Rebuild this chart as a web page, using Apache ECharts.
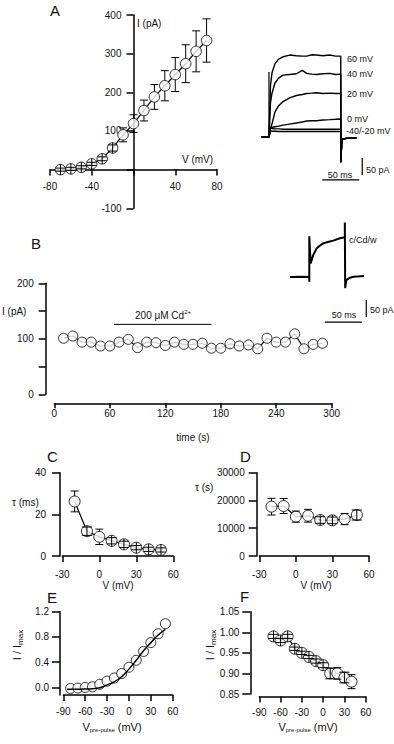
<!DOCTYPE html>
<html>
<head>
<meta charset="utf-8">
<script src="https://cdn.jsdelivr.net/npm/echarts@6/dist/echarts.min.js"></script>
<style>html,body{margin:0;padding:0;background:#fff;}</style>
</head>
<body>
<div id="main" style="width:394px;height:744px;"></div>
<script type="text/javascript">
// ---- A: I-V relation ----
var ivVolt = [-70, -60, -50, -40, -30, -20, -10, 0, 10, 20, 30, 40, 50, 60, 70];
var ivCur  = [0, 2, 6, 15, 28, 56, 90, 119, 153, 188, 217, 246, 274, 306, 334];
var ivErr  = [4, 4, 4, 4, 5, 8, 18, 23, 27, 32, 39, 44, 49, 53, 56];

// A inset: current traces (ms from step onset, pA)
var stepT = [0, 2, 4, 8, 13, 19, 28, 37, 45, 51, 58, 64, 73, 82, 90, 97];
var tr60  = [0, 150, 188, 215, 229, 236, 241, 239, 238, 238, 242, 241, 239, 241, 238, 238];
var tr40  = [0, 100, 128, 158, 173, 182, 184, 186, 196, 187, 185, 184, 186, 187, 184, 185];
var tr20  = [0, 25, 38, 73, 92, 104, 115, 122, 125, 128, 129, 130, 128, 129, 128, 128];
var tr0   = [0, 26, 28, 30, 32, 35, 38, 41, 44, 47, 48, 48, 50, 51, 52, 53];
var trM20 = [0, 26, 25, 24, 24, 23, 23, 23, 23, 23, 23, 23, 23, 23, 23, 23];
var trM40 = [0, 18, 17, 17, 16, 16, 16, 16, 16, 16, 16, 16, 16, 16, 16, 16];
var trLabels = ['60 mV', '40 mV', '20 mV', '0 mV', '-40/-20 mV'];
var preT = [-10, 0], preI = [0, 0];
var postT = [97, 98.5, 105, 118], postI = [-74, -6, -4, -2];
var onsetSpikeA = 191;
var barA_ms = [72, 122], barA_msLevel = -126;
var barA_pA = [-62, -112], barA_pALevel = 126;

// ---- B: time course with Cd2+ ----
var bTime = [10, 20, 30, 40, 50, 60, 70, 80, 90, 100, 110, 120, 130, 140, 150, 160, 170, 180, 190, 200, 210, 220, 230, 240, 250, 260, 270, 280, 290];
var bCur  = [101, 105, 94, 94, 87, 87, 94, 99, 84, 94, 93, 88, 94, 90, 90, 92, 83, 83, 91, 87, 89, 82, 101, 94, 94, 109, 82, 90, 92];
var cdBar = [64.5, 170], cdBarLevel = 126;
// B inset trace (c/Cd/w)
var cdTime = [-26, -12, -0.1, 0, 0, 1.8, 5.4, 9.9, 14, 18.9, 25, 32.4, 41.4, 48, 48, 48.5, 50, 55, 60, 74];
var cdCur  = [0, 1, 0, -14, 120, 40, 65, 84, 92, 99, 103, 107, 114, 117, 160, -33, -9, -2, 1, 3];
var barB_ms = [21, 71], barB_msLevel = -133;
var barB_pA = [-68, -118], barB_pALevel = 77;

// ---- C: tau (ms) ----
var cVolt = [-20, -10, 0, 10, 20, 30, 40, 50];
var cTau  = [26.2, 11.9, 9.2, 7.3, 5.6, 4.0, 3.2, 2.9];
var cErr  = [5, 2, 3.7, 1.5, 1.5, 1, 1, 1];

// ---- D: tau (s) ----
var dVolt = [-20, -10, 0, 10, 20, 30, 40, 50];
var dTau  = [17770, 18000, 14170, 14500, 12960, 12840, 13300, 14760];
var dErr  = [3000, 2700, 2000, 2300, 1200, 1200, 2000, 1800];

// ---- E: activation ----
var eVolt = [-80, -70, -60, -50, -40, -30, -20, -10, 0, 10, 20, 30, 40, 50];
var eRel  = [-0.016, -0.01, 0.0, 0.01, 0.05, 0.10, 0.15, 0.22, 0.32, 0.43, 0.57, 0.71, 0.85, 1.01];
var fitVolt = [-85, -80, -70, -60, -50, -40, -30, -20, -10, 0, 10, 20, 30, 40, 50];
var fitRel  = [-0.03, -0.03, -0.028, -0.025, -0.02, -0.005, 0.04, 0.09, 0.17, 0.29, 0.43, 0.58, 0.71, 0.83, 0.92];

// ---- F: inactivation ----
var fVolt = [-70, -60, -50, -40, -30, -20, -10, 0, 10, 20, 30, 40];
var fRel  = [0.99, 0.98, 0.99, 0.96, 0.95, 0.94, 0.93, 0.92, 0.90, 0.90, 0.89, 0.88];
var fErr  = [0.005, 0.005, 0.005, 0.004, 0.004, 0.004, 0.005, 0.006, 0.013, 0.014, 0.013, 0.017];

var FONT = 'Liberation Sans, Arial, sans-serif';
var INK = '#111';

function zip(a, b) { return a.map(function (v, i) { return [v, b[i]]; }); }
function zip3(a, b, c) { return a.map(function (v, i) { return [v, b[i], c[i]]; }); }

function errRender(r) {
    return function (params, api) {
        var x = api.value(0), y = api.value(1), e = api.value(2);
        var c = api.coord([x, y]), t = api.coord([x, y + e]), b = api.coord([x, y - e]);
        var st = { stroke: '#000', lineWidth: 1 };
        var ch = [];
        function ln(x1, y1, x2, y2) { ch.push({ type: 'line', shape: { x1: x1, y1: y1, x2: x2, y2: y2 }, style: st }); }
        var d = c[1] - t[1];
        var cap = 4;
        if (d > r) {
            ln(c[0], t[1], c[0], c[1] - r);
            ln(c[0], c[1] + r, c[0], b[1]);
        } else {
            ln(c[0], c[1] - r, c[0], c[1] + r);
            cap = r - 0.5;
        }
        ln(c[0] - cap, t[1], c[0] + cap, t[1]);
        ln(c[0] - cap, b[1], c[0] + cap, b[1]);
        return { type: 'group', children: ch };
    };
}

function dots(idx, data, size, errs) {
    var s = [
        { type: 'line', xAxisIndex: idx, yAxisIndex: idx, data: data, symbol: 'none', z: 1,
          lineStyle: { color: '#000', width: 1.2 }, silent: true, animation: false },
        { type: 'scatter', xAxisIndex: idx, yAxisIndex: idx, data: data, symbol: 'circle', symbolSize: size, z: 2,
          itemStyle: { color: '#fff', borderColor: '#000', borderWidth: 1 }, silent: true, animation: false }
    ];
    if (errs) {
        s.push({ type: 'custom', xAxisIndex: idx, yAxisIndex: idx, z: 3, silent: true, animation: false,
                 renderItem: errRender(size / 2), data: errs });
    }
    return s;
}

function trace(idx, data, w) {
    return { type: 'line', xAxisIndex: idx, yAxisIndex: idx, data: data, symbol: 'none', z: 2,
             lineStyle: { color: '#000', width: w || 1.4 }, silent: true, animation: false };
}

function valAxis(idx, o) {
    var ax = {
        type: 'value', gridIndex: idx, min: o.min, max: o.max, interval: o.interval,
        axisLine: { show: true, onZero: false, lineStyle: { color: '#000', width: 1.5 } },
        axisTick: { show: true, length: o.tick || 6, lineStyle: { color: '#000', width: 1.5 } },
        axisLabel: { color: INK, fontFamily: FONT, fontSize: 10, margin: o.margin || 11,
                     formatter: o.fmt || function (v) { return String(v); } },
        splitLine: { show: false },
        offset: o.offset || 0
    };
    if (o.custom) {
        ax.axisLabel.customValues = o.custom;
        ax.axisTick.customValues = o.custom;
    }
    return ax;
}
function hiddenAxis(idx, min, max) {
    return { type: 'value', gridIndex: idx, min: min, max: max, show: false, splitLine: { show: false } };
}

function txt(x, y, text, o) {
    o = o || {};
    return { type: 'text', x: x, y: y, rotation: o.rot || 0, silent: true,
             style: { text: text, fill: INK, font: (o.size || 10) + 'px ' + FONT,
                      align: o.align || 'left', verticalAlign: o.va || 'middle', rich: o.rich } };
}

var myChart = echarts.init(document.getElementById('main'), null, { renderer: 'svg' });

var hide0 = function (v) { return v === 0 ? '' : String(v); };

var series = [];
// A main
series = series.concat(dots(0, zip(ivVolt, ivCur), 10.5, zip3(ivVolt, ivCur, ivErr)));
// A inset
var trs = [tr60, tr40, tr20, tr0, trM20, trM40];
trs.forEach(function (tr) {
    var d = zip(preT, preI).concat(zip(stepT, tr)).concat(zip(postT, postI));
    series.push(trace(1, d, 1.4));
});
series.push(trace(1, [[0, 0], [0, onsetSpikeA]], 1.2));
series.push(trace(1, [[barA_ms[0], barA_msLevel], [barA_ms[1], barA_msLevel]], 1.2));
series.push(trace(1, [[barA_pALevel, barA_pA[0]], [barA_pALevel, barA_pA[1]]], 1.2));
// B main
series = series.concat(dots(2, zip(bTime, bCur), 10, null));
series.push(trace(2, [[cdBar[0], cdBarLevel], [cdBar[1], cdBarLevel]], 1));
// B inset
series.push(trace(3, zip(cdTime, cdCur), 2));
series.push(trace(3, [[barB_ms[0], barB_msLevel], [barB_ms[1], barB_msLevel]], 1.2));
series.push(trace(3, [[barB_pALevel, barB_pA[0]], [barB_pALevel, barB_pA[1]]], 1.2));
// C, D
series = series.concat(dots(4, zip(cVolt, cTau), 11, zip3(cVolt, cTau, cErr)));
series = series.concat(dots(5, zip(dVolt, dTau), 11, zip3(dVolt, dTau, dErr)));
// E
series.push({ type: 'scatter', xAxisIndex: 6, yAxisIndex: 6, data: zip(eVolt, eRel), symbol: 'circle', symbolSize: 10, z: 2,
              itemStyle: { color: '#fff', borderColor: '#000', borderWidth: 1 }, silent: true, animation: false });
series.push({ type: 'line', xAxisIndex: 6, yAxisIndex: 6, data: zip(fitVolt, fitRel), smooth: true, symbol: 'none', z: 3,
              lineStyle: { color: '#000', width: 1.5 }, silent: true, animation: false });
// F
series = series.concat(dots(7, zip(fVolt, fRel), 11, zip3(fVolt, fRel, fErr)));

var option = {
    animation: false,
    grid: [
        { left: 50, top: 15, width: 167, height: 193.3 },
        { left: 260.1, top: 48.6, width: 105.1, height: 132.6 },
        { left: 54.3, top: 283.3, width: 277.4, height: 111 },
        { left: 287.1, top: 219.2, width: 81.4, height: 105.4 },
        { left: 62.3, top: 472.7, width: 111, height: 83.3 },
        { left: 259.3, top: 472.7, width: 109.7, height: 83.3 },
        { left: 63.3, top: 611.7, width: 109.4, height: 83.3 },
        { left: 259.3, top: 611.7, width: 106.4, height: 82.3 }
    ],
    xAxis: [
        // crosses the y axis at I = 0
        valAxis(0, { min: -80, max: 80, interval: 40, offset: -38.7, margin: 12, fmt: hide0 }),
        hiddenAxis(1, -12, 130),
        valAxis(2, { min: 0, max: 300, interval: 60, offset: 9, tick: 5, margin: 5 }),
        hiddenAxis(3, -30, 80),
        valAxis(4, { min: -30, max: 60, interval: 30, margin: 13 }),
        valAxis(5, { min: -30, max: 60, interval: 30, margin: 13 }),
        valAxis(6, { min: -90, max: 60, interval: 30, margin: 11 }),
        valAxis(7, { min: -90, max: 60, interval: 30, offset: 2.5, margin: 11 })
    ],
    yAxis: [
        // crosses the x axis at V = 0
        valAxis(0, { min: -100, max: 400, interval: 100, offset: -83.5, tick: 7, margin: 12, fmt: hide0 }),
        hiddenAxis(1, -130, 260),
        valAxis(2, { min: 0, max: 200, interval: 50, offset: 8.6, tick: 7, margin: 12,
                     fmt: function (v) { return v % 100 === 0 ? String(v) : ''; } }),
        hiddenAxis(3, -140, 170),
        valAxis(4, { min: 0, max: 40, interval: 20, offset: 2.3, tick: 8, margin: 14 }),
        valAxis(5, { min: 0, max: 30000, interval: 10000, offset: 2.6, tick: 8, margin: 12 }),
        valAxis(6, { min: -0.12, max: 1.2, custom: [0, 0.4, 0.8, 1.2], offset: 3.3, tick: 8, margin: 11,
                     fmt: function (v) { return v.toFixed(1); } }),
        valAxis(7, { min: 0.85, max: 1.05, interval: 0.05, offset: 9, tick: 8, margin: 11,
                     fmt: function (v) { return v.toFixed(2); } })
    ],
    series: series,
    graphic: [
        // panel letters
        txt(50, 10, 'A', { size: 15 }),
        txt(31, 243, 'B', { size: 15 }),
        txt(47, 456, 'C', { size: 15 }),
        txt(240, 456, 'D', { size: 15 }),
        txt(47, 597, 'E', { size: 15 }),
        txt(240, 596, 'F', { size: 15 }),
        // A labels
        txt(137, 23, 'I (pA)'),
        txt(182, 159, 'V (mV)'),
        txt(347, 59, trLabels[0], { size: 9 }),
        txt(347, 74, trLabels[1], { size: 9 }),
        txt(347, 94, trLabels[2], { size: 9 }),
        txt(347, 119, trLabels[3], { size: 9 }),
        txt(346, 131, trLabels[4], { size: 9 }),
        txt(366, 170, '50 pA', { size: 9 }),
        txt(340, 175, '50 ms', { size: 9, align: 'center' }),
        // B labels
        txt(2, 311.7, 'I (pA)'),
        txt(193, 437, 'time (s)', { align: 'center' }),
        txt(163, 315, '200 \u03bcM Cd{s|2+}', { align: 'center',
            rich: { s: { fontSize: 6, fontFamily: FONT, fill: INK, verticalAlign: 'top', padding: [0, 0, 6, 0] } } }),
        txt(349, 240, 'c/Cd/w', { size: 9 }),
        txt(370, 310, '50 pA', { size: 9 }),
        txt(344, 315, '50 ms', { size: 9, align: 'center' }),
        // C, D labels
        txt(12, 502, '\u03c4 (ms)'),
        txt(195, 487, '\u03c4 (s)'),
        txt(118, 585, 'V (mV)', { align: 'center' }),
        txt(316, 585, 'V (mV)', { align: 'center' }),
        // E, F labels
        txt(17, 645, 'I / I{s|max}', { size: 11, align: 'center', rot: Math.PI / 2,
            rich: { s: { fontSize: 8, fontFamily: FONT, fill: INK, padding: [6, 0, 0, 0] } } }),
        txt(210, 645, 'I / I{s|max}', { size: 11, align: 'center', rot: Math.PI / 2,
            rich: { s: { fontSize: 8, fontFamily: FONT, fill: INK, padding: [6, 0, 0, 0] } } }),
        txt(112, 727, 'V{s|pre-pulse} (mV)', { size: 11, align: 'center',
            rich: { s: { fontSize: 6, fontFamily: FONT, fill: INK, padding: [6, 0, 0, 0] } } }),
        txt(308, 727, 'V{s|pre-pulse} (mV)', { size: 11, align: 'center',
            rich: { s: { fontSize: 6, fontFamily: FONT, fill: INK, padding: [6, 0, 0, 0] } } })
    ]
};
myChart.setOption(option);
</script>
</body>
</html>
